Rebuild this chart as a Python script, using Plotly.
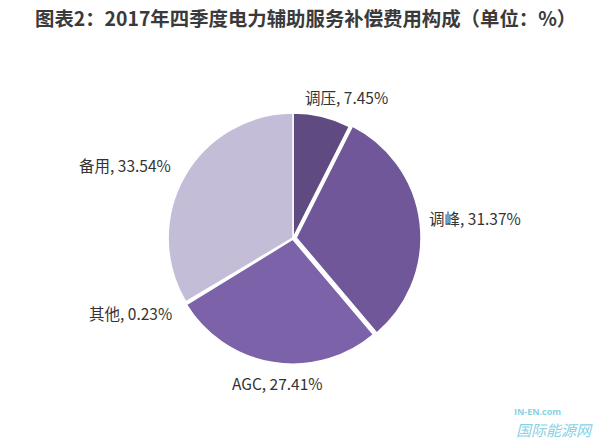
import plotly.graph_objects as go

categories = ["调压", "调峰", "AGC", "其他", "备用"]
values = [7.45, 31.37, 27.41, 0.23, 33.54]
colors = ["#5f4b82", "#6f5799", "#7c63a9", "#e6e2ee", "#c3bdd7"]
pulls = [0, 0.025, 0.01, 0, 0]

# label centres (paper coords) for outside labels
label_pos = {
    "调压": (0.578, 0.781),
    "调峰": (0.792, 0.508),
    "AGC": (0.463, 0.135),
    "其他": (0.218, 0.293),
    "备用": (0.208, 0.628),
}

R = 128
CX, CY = 293, 238
fig = go.Figure(go.Pie(
    labels=categories,
    values=values,
    sort=False,
    direction="clockwise",
    rotation=0,
    pull=pulls,
    marker=dict(colors=colors, line=dict(color="white", width=1.5)),
    textinfo="none",
    hoverinfo="label+percent",
    domain=dict(x=[(CX - R) / 600, (CX + R) / 600],
                y=[(443 - CY - R) / 443, (443 - CY + R) / 443]),
    showlegend=False,
))

for c, v in zip(categories, values):
    x, y = label_pos[c]
    fig.add_annotation(x=x, y=y, xref="paper", yref="paper",
                       xanchor="center", yanchor="middle",
                       text=f"{c}, {v:.2f}%", showarrow=False,
                       font=dict(size=15.5, color="#333333",
                                 family="Noto Sans CJK SC, Open Sans, sans-serif"))

fig.add_annotation(x=33 / 600, y=1 - 18 / 443, xref="paper", yref="paper",
                   xanchor="left", yanchor="middle",
                   text="<b>图表2：2017年四季度电力辅助服务补偿费用构成（单位：%）</b>",
                   showarrow=False,
                   font=dict(size=19.4, color="#3a3a3a", family="Noto Sans CJK SC, sans-serif"))

fig.add_annotation(x=554 / 600, y=1 - 429 / 443, xref="paper", yref="paper",
                   xanchor="center", yanchor="middle", text="<i>国际能源网</i>",
                   showarrow=False,
                   font=dict(size=15, color="#86d2e6", family="Noto Sans CJK SC, sans-serif"))
fig.add_annotation(x=512 / 600, y=1 - 411 / 443, xref="paper", yref="paper",
                   xanchor="left", yanchor="middle", text="<b>IN-EN.com</b>",
                   showarrow=False,
                   font=dict(size=9, color="#86d2e6", family="Open Sans, sans-serif"))

fig.update_layout(width=600, height=443, margin=dict(l=0, r=0, t=0, b=0),
                  paper_bgcolor="white", plot_bgcolor="white")

fig.write_html("out.html", config={"displayModeBar": False},
               post_script="document.body.style.margin='0px';")
